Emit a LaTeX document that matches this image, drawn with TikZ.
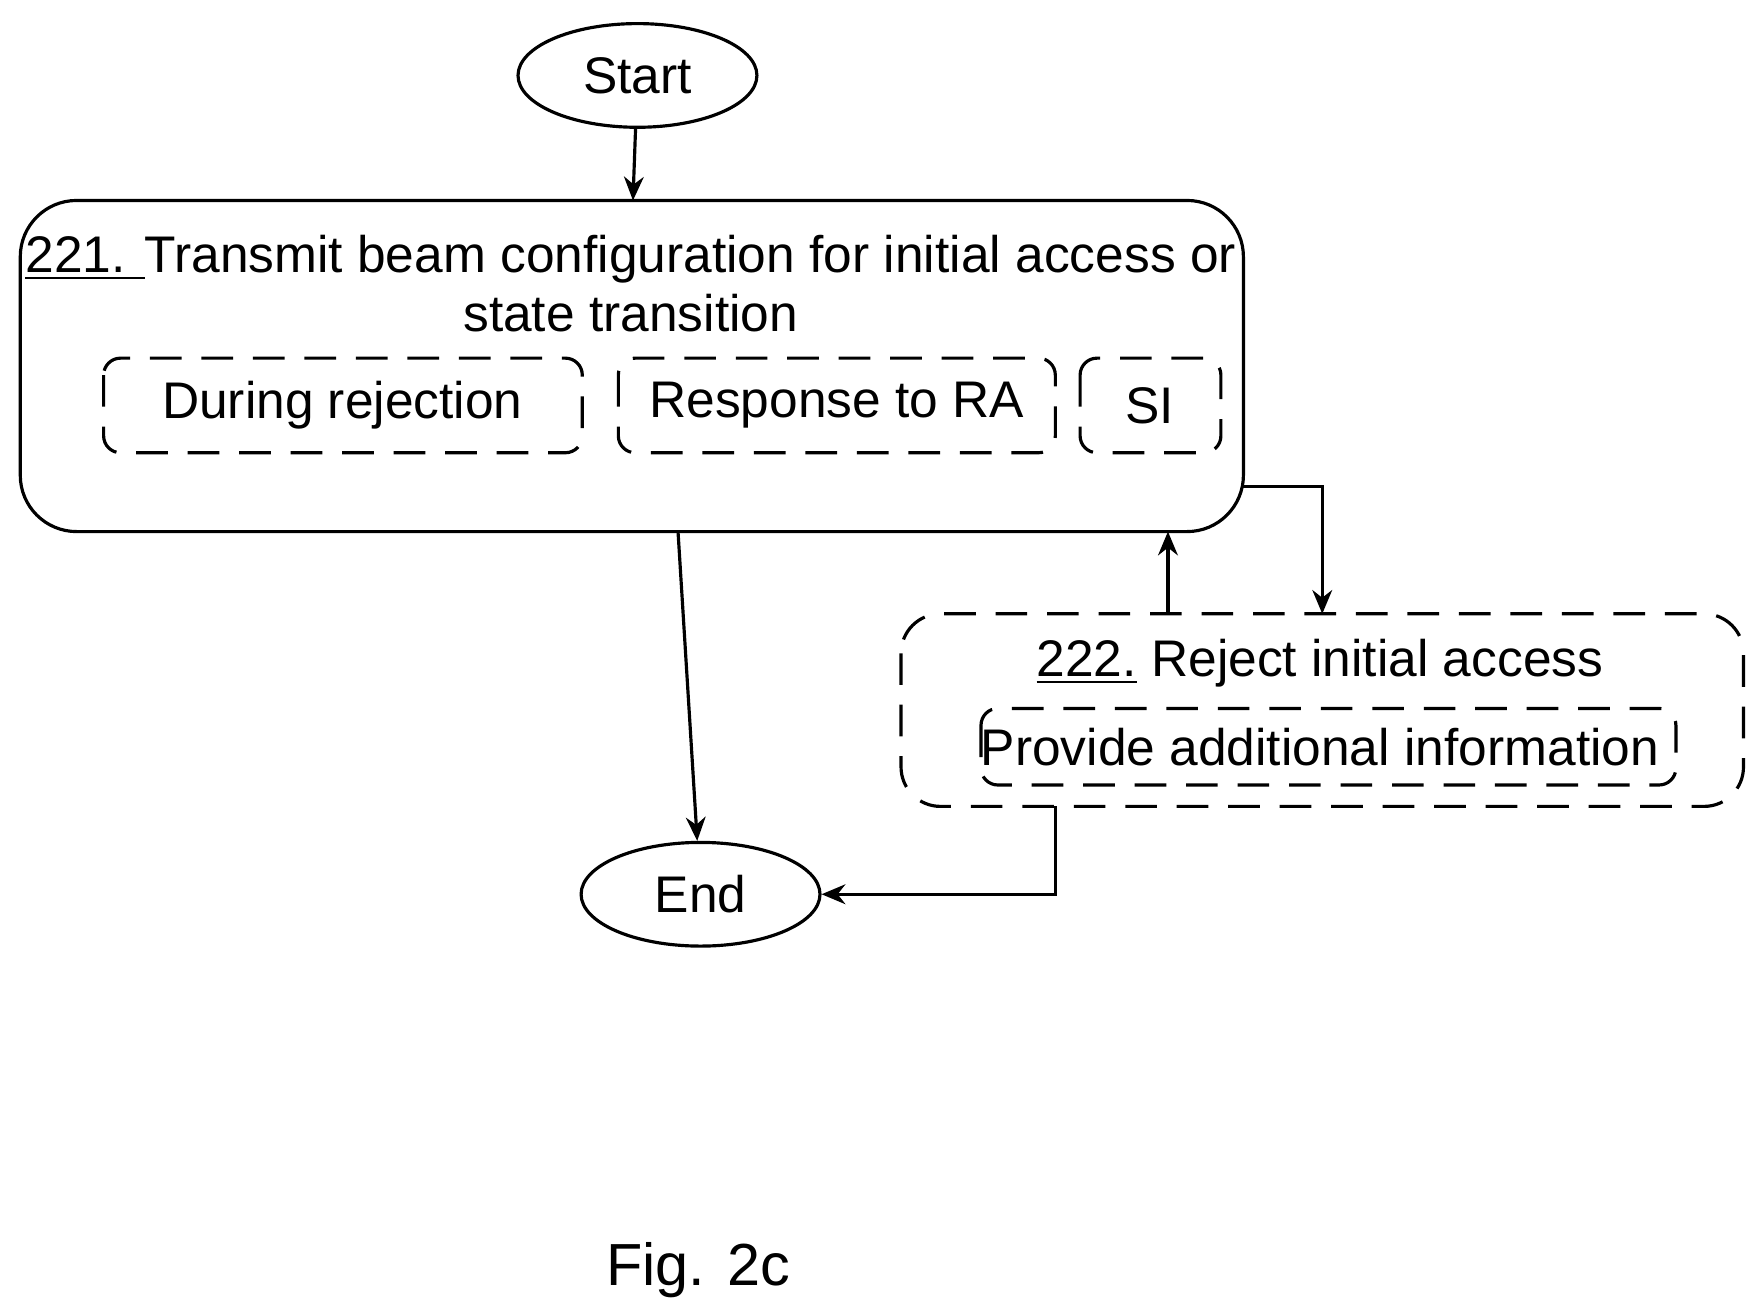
\documentclass[tikz,border=0pt]{standalone}
\usepackage{fontspec}
\setmainfont{Liberation Sans}
\usetikzlibrary{shapes.geometric,arrows.meta}

\begin{document}
\begin{tikzpicture}[x=0.01cm,y=-0.01cm]
    \tikzstyle{terminal}=[
        draw = black,
        thick,
        ellipse,
        minimum width = 2.12cm,
        minimum height = 0.92cm,
        font = \fontsize{13}{15}\selectfont
    ]
    \tikzstyle{stepbox}=[
        draw = black,
        thick,
        rounded corners = 0.5cm
    ]
    \tikzstyle{option}=[
        draw = black,
        thick,
        dash pattern = on 8pt off 5pt,
        rounded corners = 0.15cm
    ]
    \tikzstyle{boxtext}=[
        font = \fontsize{13}{15}\selectfont,
        inner sep = 0pt
    ]
    \tikzstyle{flow}=[-{Stealth[length=6pt,width=5pt]}, thick]

    \useasboundingbox (0,0) rectangle (1560,1165);

	\node[terminal] (start) at (566, 67)  {Start};
	\node[terminal] (end)   at (622, 794) {End};

	\draw[stepbox] (18,178) rectangle (1104,472);
	\coordinate (s221top) at (562,178);
	\coordinate (s221bot) at (602,472);
	\coordinate (s221ret) at (1037,472);
	\coordinate (s221out) at (1104,432);
	\node[boxtext] (t221a) at (560,230) {\underline{221. }Transmit beam configuration for initial access or};
	\node[boxtext] (t221b) at (560,278) {state transition};

	\draw[option] (92,318) rectangle (517,402);
	\node[boxtext] (rej)  at (304,360) {During rejection};
	\draw[option] (549,318) rectangle (937,402);
	\node[boxtext] (resp) at (743,360) {Response to RA};
	\draw[option] (959,318) rectangle (1084,402);
	\node[boxtext] (si)   at (1021,360) {SI};

	\draw[stepbox, dash pattern = on 8pt off 5pt, rounded corners = 0.35cm] (800,545) rectangle (1548,716);
	\coordinate (s222in)  at (1174,545);
	\coordinate (s222up)  at (1037,545);
	\coordinate (s222bot) at (937,716);
	\node[boxtext] (t222) at (1172,589) {\underline{222.} Reject initial access};
	\draw[option] (871,629) rectangle (1488,697);
	\node[boxtext] (info) at (1172,663) {Provide additional information};

	\draw[flow] (start) -- (s221top);
	\draw[flow] (s221bot) -- (end);
	\draw[flow] (s221out) -| (s222in);
	\draw[flow] (s222up) -- (s221ret);
	\draw[flow] (s222bot) |- (end);

	\node[boxtext, font = \fontsize{15}{17}\selectfont] (fig) at (620,1128) {Fig. 2c};

\end{tikzpicture}
\end{document}
